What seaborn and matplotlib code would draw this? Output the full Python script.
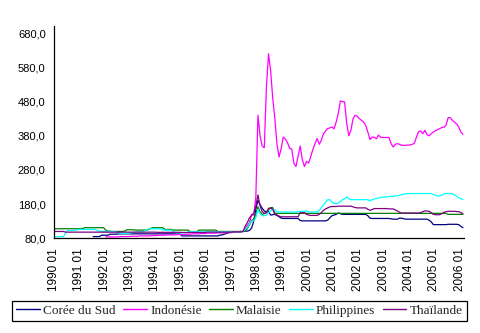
import numpy as np
import pandas as pd
import matplotlib
matplotlib.use("Agg")
import matplotlib.pyplot as plt
from matplotlib.lines import Line2D
from matplotlib.ticker import FuncFormatter
import seaborn as sns

NA = np.nan

# Monthly exchange-rate index against the US dollar, 1990-01 .. 2006-02
coree = [
    NA, NA, NA, NA, NA, NA, NA, NA, NA, NA, NA, NA,                      # 1990
    NA, NA, NA, NA, NA, NA, 85, 85, 85, 85, 89, 89,                      # 1991
    89, 89, 92, 92, 92, 92, 93, 93, 93, 93, 93, 93,                      # 1992
    93, 93, 93, 93, 93, 93, 93, 93, 93, 93, 93, 93,                      # 1993
    93, 93, 93, 93, 93, 93, 93, 93, 93, 93, 93, 93,                      # 1994
    87, 87, 87, 87, 87, 87, 87, 87, 87, 87, 87, 87,                      # 1995
    87, 87, 87, 87, 87, 87, 89, 90, 92, 94, 96, 97,                      # 1996
    97, 98, 98, 99, 100, 100, 101, 101, 103, 110, 130, 165,              # 1997
    191, 178, 168, 160, 158, 158, 148, 149, 150, 147, 143, 139,          # 1998
    138, 138, 138, 138, 138, 138, 138, 138, 132, 131, 131, 131,          # 1999
    131, 131, 131, 131, 131, 131, 131, 131, 131, 133, 140, 146,          # 2000
    148, 150, 154, 152, 150, 150, 150, 150, 150, 150, 150, 150,          # 2001
    150, 150, 150, 150, 146, 139, 138, 138, 138, 138, 138, 138,          # 2002
    138, 138, 138, 137, 136, 136, 136, 139, 139, 137, 136, 136,          # 2003
    136, 136, 136, 136, 136, 136, 136, 136, 136, 133, 128, 120,          # 2004
    120, 120, 120, 120, 120, 120, 121, 121, 121, 121, 121, 120,          # 2005
    115, 111,                                                            # 2006
]

indonesie = [
    NA, NA, NA, NA, NA, NA, NA, NA, NA, NA, NA, NA,                      # 1990
    NA, NA, NA, NA, NA, NA, NA, NA, NA, NA, NA, NA,                      # 1991
    84, 84, 84, 84, 84, 84, 84, 85, 85, 85, 85, 85,                      # 1992
    86, 86, 86, 86, 87, 87, 87, 87, 87, 87, 88, 88,                      # 1993
    88, 89, 89, 89, 89, 90, 90, 90, 90, 90, 91, 91,                      # 1994
    91, 91, 92, 92, 92, 93, 93, 93, 93, 94, 94, 94,                      # 1995
    95, 95, 95, 95, 95, 96, 96, 96, 96, 96, 97, 97,                      # 1996
    97, 98, 98, 98, 99, 100, 107, 118, 125, 150, 148, 200,               # 1997
    440, 380, 350, 345, 520, 620, 570, 490, 430, 355, 318, 343,          # 1998
    376, 370, 360, 343, 341, 300, 290, 320, 350, 310, 290, 305,          # 1999
    300, 320, 340, 357, 372, 355, 367, 386, 394, 401, 403, 406,          # 2000
    400, 420, 445, 482, 480, 479, 416, 380, 396, 430, 440, 437,          # 2001
    430, 425, 420, 411, 391, 369, 376, 376, 371, 382, 376, 375,          # 2002
    375, 375, 375, 357, 347, 355, 357, 355, 352, 352, 352, 353,          # 2003
    353, 355, 358, 376, 392, 394, 386, 396, 383, 380, 386, 391,          # 2004
    395, 398, 401, 404, 405, 411, 433, 433, 425, 420, 415, 406,          # 2005
    391, 384,                                                            # 2006
]

malaisie = [
    108, 108, 108, 108, 108, 108, 108, 108, 108, 108, 108, 108,          # 1990
    108, 108, 111, 111, 111, 111, 111, 111, 111, 111, 111, 111,          # 1991
    104, 101, 101, 100, 100, 100, 100, 100, 100, 101, 105, 105,          # 1992
    105, 105, 104, 104, 104, 104, 104, 104, 105, 108, 111, 111,          # 1993
    111, 111, 111, 111, 106, 106, 106, 106, 104, 104, 104, 104,          # 1994
    104, 104, 104, 104, 99, 99, 99, 99, 104, 104, 104, 104,              # 1995
    104, 104, 104, 104, 104, 100, 100, 100, 100, 100, 100, 100,          # 1996
    100, 100, 100, 100, 100, 100, 102, 108, 120, 132, 136, 150,          # 1997
    172, 157, 150, 152, 155, 163, 170, 170, 153, 153, 153, 153,          # 1998
    153, 153, 153, 153, 153, 153, 153, 153, 153, 153, 153, 153,          # 1999
    153, 153, 153, 153, 153, 153, 153, 153, 153, 153, 153, 153,          # 2000
    153, 153, 153, 153, 153, 153, 153, 153, 153, 153, 153, 153,          # 2001
    153, 153, 153, 153, 153, 153, 153, 153, 153, 153, 153, 153,          # 2002
    153, 153, 153, 153, 153, 153, 153, 153, 153, 153, 153, 153,          # 2003
    153, 153, 153, 153, 153, 153, 153, 153, 153, 153, 153, 153,          # 2004
    153, 153, 153, 153, 153, 153, 150, 150, 150, 150, 150, 150,          # 2005
    150, 150,                                                            # 2006
]

philippines = [
    85, 85, 85, 85, 85, 96, 103, 103, 103, 103, 104, 106,                # 1990
    106, 106, 106, 106, 106, 106, 106, 106, 103, 101, 100, 100,          # 1991
    100, 100, 100, 100, 100, 98, 96, 95, 94, 94, 94, 95,                 # 1992
    96, 97, 98, 99, 99, 99, 100, 104, 107, 108, 108, 108,                # 1993
    108, 108, 108, 104, 104, 104, 104, 104, 100, 96, 96, 96,             # 1994
    96, 96, 96, 99, 99, 99, 99, 99, 99, 99, 99, 99,                      # 1995
    99, 99, 99, 99, 99, 99, 99, 99, 99, 99, 99, 99,                      # 1996
    99, 99, 99, 99, 100, 100, 106, 111, 122, 130, 131, 140,              # 1997
    165, 152, 146, 146, 148, 155, 160, 165, 163, 157, 157, 157,          # 1998
    157, 157, 157, 157, 157, 157, 157, 158, 159, 159, 159, 160,          # 1999
    157, 157, 157, 157, 157, 162, 170, 178, 185, 193, 193, 186,          # 2000
    182, 181, 183, 188, 193, 196, 201, 195, 193, 193, 193, 193,          # 2001
    193, 193, 193, 193, 193, 189, 193, 195, 196, 198, 200, 200,          # 2002
    200, 202, 202, 203, 203, 204, 204, 206, 208, 209, 210, 211,          # 2003
    211, 211, 211, 211, 211, 211, 211, 211, 211, 211, 211, 208,          # 2004
    206, 204, 204, 206, 210, 211, 211, 211, 210, 207, 203, 199,          # 2005
    196, 193,                                                            # 2006
]

thailande = [
    100, 100, 100, 100, 100, 98, 98, 98, 98, 98, 98, 98,                 # 1990
    98, 98, 98, 98, 98, 98, 98, 98, 98, 98, 98, 98,                      # 1991
    98, 98, 98, 98, 98, 98, 98, 98, 98, 98, 98, 98,                      # 1992
    98, 98, 98, 98, 98, 98, 98, 98, 98, 98, 98, 98,                      # 1993
    97.5, 97.5, 97.5, 97.5, 97.5, 97.5, 97.5, 97.5, 97.5, 97.5, 97.5, 97.5,  # 1994
    97, 97, 97, 97, 97, 97, 97, 97, 97, 97, 97, 97,                      # 1995
    98, 98, 98, 98, 98, 98, 98, 98, 98, 98, 98, 98,                      # 1996
    99, 99, 99, 99, 99, 100, 116, 126, 140, 147, 153, 174,               # 1997
    207, 175, 158, 153, 155, 168, 168, 165, 150, 148, 145, 143,          # 1998
    143, 143, 143, 143, 143, 143, 143, 143, 155, 155, 155, 150,          # 1999
    148, 147, 147, 147, 147, 150, 155, 162, 166, 169, 172, 173,          # 2000
    173, 173, 174, 174, 174, 174, 174, 174, 174, 172, 170, 169,          # 2001
    169, 169, 169, 169, 165, 162, 164, 167, 167, 167, 167, 167,          # 2002
    167, 167, 166, 166, 166, 163, 160, 156, 154, 154, 154, 154,          # 2003
    154, 154, 154, 154, 154, 155, 158, 160, 160, 159, 155, 150,          # 2004
    149, 149, 149, 152, 156, 158, 159, 159, 159, 159, 158, 158,          # 2005
    155, 152,                                                            # 2006
]

pays = ["Corée du Sud", "Indonésie", "Malaisie", "Philippines", "Thaïlande"]
valeurs = [coree, indonesie, malaisie, philippines, thailande]
couleurs = ["#000080", "#FF00FF", "#008000", "#00FFFF", "#800080"]

first_year = 1990
y_ticks = [80, 180, 280, 380, 480, 580, 680]

n_months = len(coree)
month_labels = [f"{first_year + i // 12} {i % 12 + 1:02d}" for i in range(n_months)]

frames = []
for name, vals in zip(pays, valeurs):
    frames.append(pd.DataFrame({
        "pos": np.arange(len(vals)) + 0.5,
        "pays": name,
        "indice": vals,
    }))
df = pd.concat(frames, ignore_index=True).dropna()
palette = dict(zip(pays, couleurs))

sns.set_style("white")
plt.rcParams["font.family"] = ["Liberation Sans", "DejaVu Sans"]

fig = plt.figure(figsize=(4.81, 3.33), dpi=100)
W, H = 481, 333
left, right, bottom, top = 54, 464, 238.3, 26.4
ax = fig.add_axes([left / W, 1 - bottom / H, (right - left) / W, (bottom - top) / H])

sns.lineplot(data=df, x="pos", y="indice", hue="pays", hue_order=pays,
             palette=palette, estimator=None, sort=False, linewidth=0.9,
             legend=False, ax=ax)

ax.set_xlim(0, n_months)
ax.set_ylim(80, 700)
ax.set_yticks(y_ticks)
ax.yaxis.set_major_formatter(FuncFormatter(lambda v, p: f"{v:.1f}".replace(".", ",")))

tick_pos = list(range(0, n_months, 12))
ax.set_xticks(tick_pos)
ax.set_xticklabels([month_labels[i] for i in tick_pos], rotation=90)

ax.set_xlabel("")
ax.set_ylabel("")
for side in ("top", "right"):
    ax.spines[side].set_visible(False)
for side in ("left", "bottom"):
    ax.spines[side].set_color("black")
    ax.spines[side].set_linewidth(0.9)
ax.tick_params(axis="both", direction="out", length=4, width=0.9,
               color="black", labelsize=8, pad=2, labelcolor="black")
ax.tick_params(axis="x", length=5, labelsize=8.5)

handles = [Line2D([0], [0], color=c, lw=1.0) for c in couleurs]
leg = fig.legend(handles, pays, loc="center", bbox_to_anchor=(0.498, 0.0667),
                 ncol=5, frameon=True, fancybox=False, edgecolor="black",
                 framealpha=1, prop={"family": "Liberation Serif", "size": 9.5},
                 handlelength=1.8, handletextpad=0.25, columnspacing=0.55,
                 borderpad=0.3, borderaxespad=0)
leg.get_frame().set_linewidth(0.9)

fig.savefig("out.png", dpi=100)
